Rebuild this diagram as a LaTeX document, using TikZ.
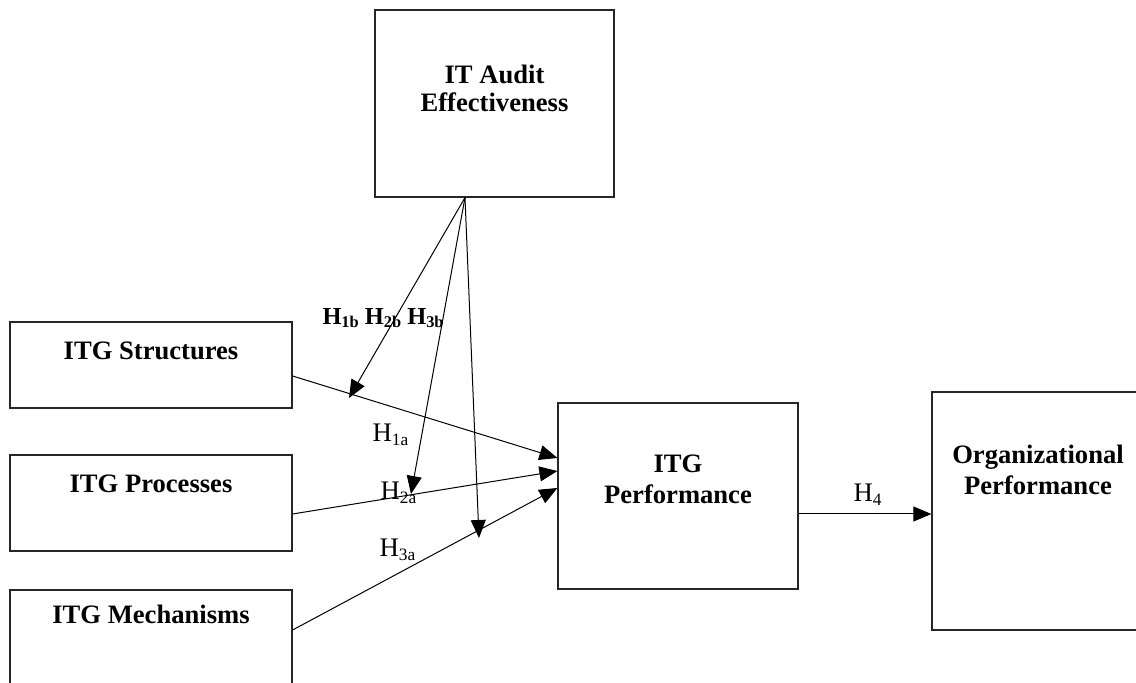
\documentclass[tikz,border=0pt]{standalone}
\usepackage{fontspec}
\setmainfont{Liberation Serif}
\usepackage{tikz}
\usetikzlibrary{arrows.meta, positioning, calc}

\newcommand{\hyp}[1]{H\raisebox{-1.6pt}{\fontsize{8.7}{9}\selectfont #1}}
\newcommand{\hypb}[1]{H\raisebox{-1.4pt}{\fontsize{8.2}{9}\selectfont #1}}

\begin{document}
\begin{tikzpicture}
            [->, >={Triangle[length=9pt,width=7.5pt]}, x=0.5pt, y=-0.5pt, line width=0.5pt,
            varbox/.style={rectangle, draw=black!85, line width=0.6pt, inner sep=0pt},
            vartext/.style={align=center, inner sep=0pt, font=\bfseries\fontsize{13.3}{15.5}\selectfont},
            hyplabel/.style={inner sep=0pt, anchor=base west, font=\fontsize{13.4}{15}\selectfont}]

            \useasboundingbox (0,0) rectangle (1136,683);

            \node[varbox, minimum width=119.5pt, minimum height=93.5pt] (audit) at (494.5,103.5) {};
            \node[varbox, minimum width=141pt, minimum height=43pt] (struct) at (151,365) {};
            \node[varbox, minimum width=141pt, minimum height=48pt] (proc) at (151,503) {};
            \node[varbox, minimum width=141pt, minimum height=60pt] (mech) at (151,650) {};
            \node[varbox, minimum width=120pt, minimum height=93pt] (perf) at (678,496) {};
            \node[varbox, minimum width=106pt, minimum height=119pt] (org) at (1038,511) {};

            \node[vartext, below=27.5pt of audit.north] (audittxt) {IT Audit\\[-1.5pt]Effectiveness};
            \node[vartext, below=10pt of struct.north] (structtxt) {ITG Structures};
            \node[vartext, below=10pt of proc.north] (proctxt) {ITG Processes};
            \node[vartext, below=7.5pt of mech.north] (mechtxt) {ITG Mechanisms};
            \node[vartext, below=26pt of perf.north] (perftxt) {ITG\\Performance};
            \node[vartext, below=26.5pt of org.north] (orgtxt) {Organizational\\Performance};

            \coordinate (fan) at ([xshift=-14.75pt]audit.south);
            \coordinate (t1) at (349,398);
            \coordinate (t2) at (411,494);
            \coordinate (t3) at (479,538);

            \draw ([yshift=-5.5pt]struct.east) -- ([yshift=19pt]perf.west);
            \draw ([yshift=-5.5pt]proc.east) -- ([yshift=12.5pt]perf.west);
            \draw ([yshift=10pt]mech.east) -- ([yshift=4pt]perf.west);
            \draw (fan) -- (t1);
            \draw (fan) -- (t2);
            \draw (fan) -- (t3);
            \draw ([yshift=-9pt]perf.east) -- ([yshift=-9pt]perf.east -| org.west);

            \node[hyplabel] (h1a) at (372,442) {\hyp{1a}};
            \node[hyplabel] (h2a) at (380,500) {\hyp{2a}};
            \node[hyplabel] (h3a) at (379,557) {\hyp{3a}};
            \node[hyplabel] (h4) at (853,502) {\hyp{4}};
            \node[hyplabel, font=\bfseries\fontsize{12.2}{14}\selectfont] (hb) at (322,325) {\hypb{1b} \hypb{2b} \hypb{3b}};
        \end{tikzpicture}
\end{document}
